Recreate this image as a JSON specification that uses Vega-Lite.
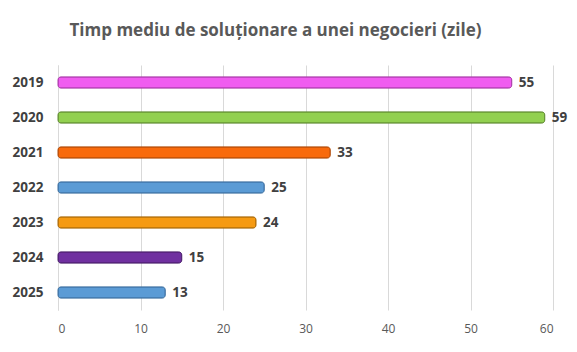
{
  "$schema": "https://vega.github.io/schema/vega-lite/v6.json",
  "width": 495,
  "height": 245,
  "autosize": "none",
  "padding": {"left": 58, "top": 65, "right": 24, "bottom": 42},
  "background": "white",
  "title": {
    "text": "Timp mediu de soluționare a unei negocieri (zile)",
    "font": "Open Sans",
    "fontSize": 17,
    "fontWeight": "bold",
    "color": "#595959",
    "anchor": "middle",
    "offset": 25,
    "dx": -30
  },
  "data": {
    "values": [
      {"an": "2019", "zile": 55},
      {"an": "2020", "zile": 59},
      {"an": "2021", "zile": 33},
      {"an": "2022", "zile": 25},
      {"an": "2023", "zile": 24},
      {"an": "2024", "zile": 15},
      {"an": "2025", "zile": 13}
    ]
  },
  "config": {
    "view": {"stroke": null},
    "axis": {"gridColor": "#d9d9d9", "gridWidth": 1}
  },
  "encoding": {
    "y": {
      "field": "an",
      "type": "nominal",
      "sort": null,
      "scale": {"paddingInner": 0.68, "paddingOuter": 0.34},
      "axis": {
        "title": null,
        "ticks": false,
        "domain": true,
        "domainColor": "#d9d9d9",
        "labelFont": "Open Sans",
        "labelFontSize": 13.5,
        "labelFontWeight": "bold",
        "labelColor": "#404040",
        "labelPadding": 15
      }
    },
    "x": {
      "field": "zile",
      "type": "quantitative",
      "scale": {"domain": [0, 60]},
      "axis": {
        "title": null,
        "values": [0, 10, 20, 30, 40, 50, 60],
        "ticks": false,
        "domain": false,
        "grid": true,
        "labelFont": "Open Sans",
        "labelFontSize": 12,
        "labelColor": "#595959",
        "labelPadding": 13
      }
    }
  },
  "layer": [
    {
      "mark": {"type": "bar", "cornerRadius": 3, "strokeWidth": 1},
      "encoding": {
        "color": {
          "field": "an",
          "type": "nominal",
          "legend": null,
          "scale": {
            "domain": ["2019", "2020", "2021", "2022", "2023", "2024", "2025"],
            "range": ["#f05cf0", "#92d050", "#f86a0c", "#5b9bd5", "#f59a12", "#7030a0", "#5b9bd5"]
          }
        },
        "stroke": {
          "field": "an",
          "type": "nominal",
          "legend": null,
          "scale": {
            "domain": ["2019", "2020", "2021", "2022", "2023", "2024", "2025"],
            "range": ["#a83aa8", "#5f8a30", "#b04a08", "#3c6fa0", "#a86808", "#4a1f6c", "#3c6fa0"]
          }
        }
      }
    },
    {
      "mark": {
        "type": "text",
        "align": "left",
        "dx": 7,
        "font": "Open Sans",
        "fontSize": 13.5,
        "fontWeight": "bold",
        "color": "#404040"
      },
      "encoding": {"text": {"field": "zile", "type": "quantitative"}}
    }
  ]
}
